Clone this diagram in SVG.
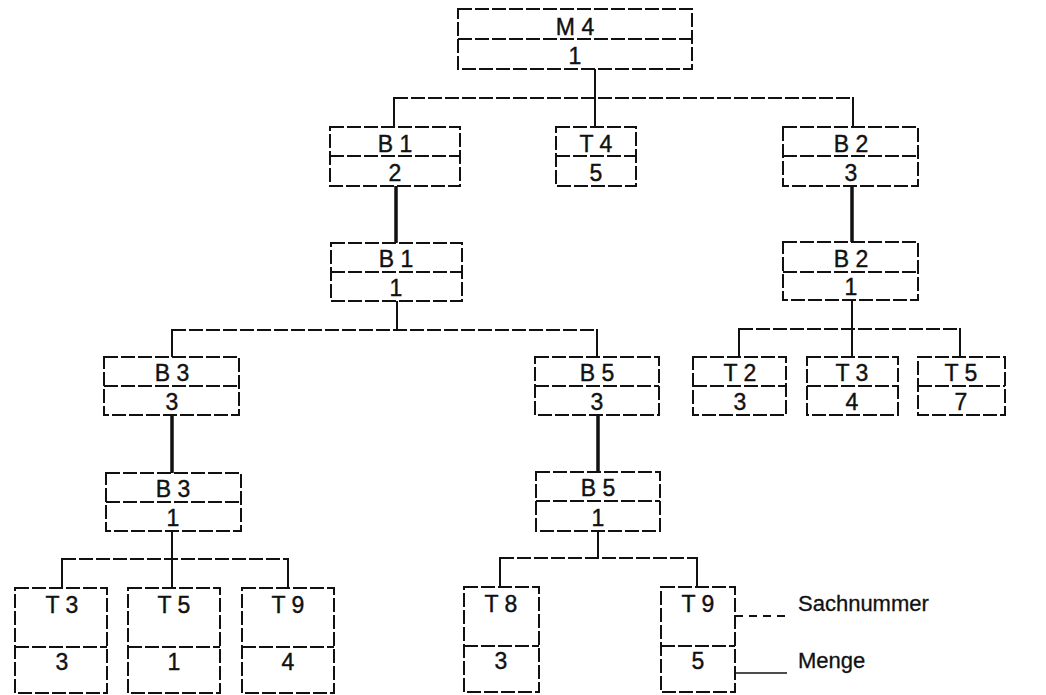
<svg xmlns="http://www.w3.org/2000/svg" width="1046" height="695" viewBox="0 0 1046 695">
<style>
.box{fill:#fff;stroke:#111;stroke-width:2;stroke-dasharray:14 3}
.div{stroke:#111;stroke-width:2;stroke-dasharray:14 3}
.t{font-family:"Liberation Sans",Arial,sans-serif;font-size:23px;fill:#111;stroke:#111;stroke-width:0.4;text-anchor:middle}
.lg{font-family:"Liberation Sans",Arial,sans-serif;font-size:22px;fill:#111;stroke:#111;stroke-width:0.3}
.bus{stroke:#111;stroke-width:2;stroke-dasharray:14 3;fill:none}
.v{stroke:#111;stroke-width:2;fill:none}
.vt{stroke:#111;stroke-width:3.5;fill:none}
</style>
<rect width="1046" height="695" fill="#fff"/>
<g id="connectors">
<line class="v" x1="595" y1="69" x2="595" y2="127"/>
<line class="bus" x1="394" y1="98" x2="853" y2="98"/>
<line class="v" x1="394" y1="97" x2="394" y2="127"/>
<line class="v" x1="853" y1="97" x2="853" y2="127"/>
<line class="vt" x1="396" y1="186" x2="396" y2="243"/>
<line class="vt" x1="852" y1="186" x2="852" y2="242"/>
<line class="v" x1="397" y1="301" x2="397" y2="330"/>
<line class="bus" x1="172" y1="330" x2="597" y2="330"/>
<line class="v" x1="172" y1="329" x2="172" y2="357"/>
<line class="v" x1="597" y1="329" x2="597" y2="357"/>
<line class="v" x1="852" y1="300" x2="852" y2="357"/>
<line class="bus" x1="739" y1="329" x2="960" y2="329"/>
<line class="v" x1="739" y1="328" x2="739" y2="357"/>
<line class="v" x1="960" y1="328" x2="960" y2="357"/>
<line class="vt" x1="172" y1="415" x2="172" y2="473"/>
<line class="vt" x1="598" y1="415" x2="598" y2="472"/>
<line class="v" x1="172" y1="531" x2="172" y2="588"/>
<line class="bus" x1="62" y1="559" x2="288" y2="559"/>
<line class="v" x1="62" y1="558" x2="62" y2="588"/>
<line class="v" x1="288" y1="558" x2="288" y2="588"/>
<line class="v" x1="598" y1="531" x2="598" y2="558"/>
<line class="bus" x1="500" y1="558" x2="697" y2="558"/>
<line class="v" x1="500" y1="557" x2="500" y2="587"/>
<line class="v" x1="697" y1="557" x2="697" y2="587"/>
<line class="bus" x1="735" y1="616" x2="787" y2="616" style="stroke-dasharray:8 6"/>
<line class="v" x1="735" y1="673" x2="787" y2="673" style="stroke-width:1.5"/>
</g>
<g id="M4"><rect class="box" x="458" y="9" width="234" height="60"/><line class="div" x1="458" y1="39" x2="692" y2="39"/><text class="t" x="575" y="35">M 4</text><text class="t" x="575" y="64">1</text></g>
<g id="B1a"><rect class="box" x="330" y="127" width="130" height="59"/><line class="div" x1="330" y1="156" x2="460" y2="156"/><text class="t" x="395" y="152">B 1</text><text class="t" x="395" y="181">2</text></g>
<g id="T4"><rect class="box" x="556" y="127" width="80" height="59"/><line class="div" x1="556" y1="156" x2="636" y2="156"/><text class="t" x="596" y="152">T 4</text><text class="t" x="596" y="181">5</text></g>
<g id="B2a"><rect class="box" x="783" y="127" width="135" height="59"/><line class="div" x1="783" y1="156" x2="918" y2="156"/><text class="t" x="851" y="152">B 2</text><text class="t" x="851" y="181">3</text></g>
<g id="B1b"><rect class="box" x="331" y="243" width="131" height="58"/><line class="div" x1="331" y1="272" x2="462" y2="272"/><text class="t" x="396" y="267">B 1</text><text class="t" x="396" y="296">1</text></g>
<g id="B2b"><rect class="box" x="783" y="242" width="135" height="58"/><line class="div" x1="783" y1="272" x2="918" y2="272"/><text class="t" x="851" y="267">B 2</text><text class="t" x="851" y="295">1</text></g>
<g id="B3a"><rect class="box" x="104" y="357" width="135" height="58"/><line class="div" x1="104" y1="386" x2="239" y2="386"/><text class="t" x="172" y="381">B 3</text><text class="t" x="172" y="410">3</text></g>
<g id="B5a"><rect class="box" x="535" y="357" width="124" height="58"/><line class="div" x1="535" y1="386" x2="659" y2="386"/><text class="t" x="597" y="381">B 5</text><text class="t" x="597" y="410">3</text></g>
<g id="T2a"><rect class="box" x="693" y="357" width="93" height="58"/><line class="div" x1="693" y1="386" x2="786" y2="386"/><text class="t" x="740" y="381">T 2</text><text class="t" x="740" y="410">3</text></g>
<g id="T3a"><rect class="box" x="807" y="357" width="91" height="58"/><line class="div" x1="807" y1="386" x2="898" y2="386"/><text class="t" x="852" y="381">T 3</text><text class="t" x="852" y="410">4</text></g>
<g id="T5a"><rect class="box" x="918" y="357" width="87" height="58"/><line class="div" x1="918" y1="386" x2="1005" y2="386"/><text class="t" x="961" y="381">T 5</text><text class="t" x="961" y="410">7</text></g>
<g id="B3b"><rect class="box" x="106" y="473" width="135" height="58"/><line class="div" x1="106" y1="502" x2="241" y2="502"/><text class="t" x="173" y="497">B 3</text><text class="t" x="173" y="526">1</text></g>
<g id="B5b"><rect class="box" x="536" y="472" width="124" height="59"/><line class="div" x1="536" y1="501" x2="660" y2="501"/><text class="t" x="598" y="496">B 5</text><text class="t" x="598" y="526">1</text></g>
<g id="T3b"><rect class="box" x="15" y="588" width="92" height="105"/><line class="div" x1="15" y1="647" x2="107" y2="647"/><text class="t" x="62" y="613">T 3</text><text class="t" x="62" y="670">3</text></g>
<g id="T5b"><rect class="box" x="128" y="588" width="92" height="105"/><line class="div" x1="128" y1="647" x2="220" y2="647"/><text class="t" x="174" y="613">T 5</text><text class="t" x="174" y="670">1</text></g>
<g id="T9a"><rect class="box" x="242" y="588" width="92" height="105"/><line class="div" x1="242" y1="647" x2="334" y2="647"/><text class="t" x="288" y="613">T 9</text><text class="t" x="288" y="670">4</text></g>
<g id="T8"><rect class="box" x="464" y="587" width="75" height="105"/><line class="div" x1="464" y1="646" x2="539" y2="646"/><text class="t" x="501" y="612">T 8</text><text class="t" x="501" y="669">3</text></g>
<g id="T9b"><rect class="box" x="661" y="587" width="74" height="105"/><line class="div" x1="661" y1="646" x2="735" y2="646"/><text class="t" x="698" y="612">T 9</text><text class="t" x="698" y="669">5</text></g>
<g id="legend"><text class="lg" x="798" y="611">Sachnummer</text><text class="lg" x="798" y="668">Menge</text></g>
</svg>
